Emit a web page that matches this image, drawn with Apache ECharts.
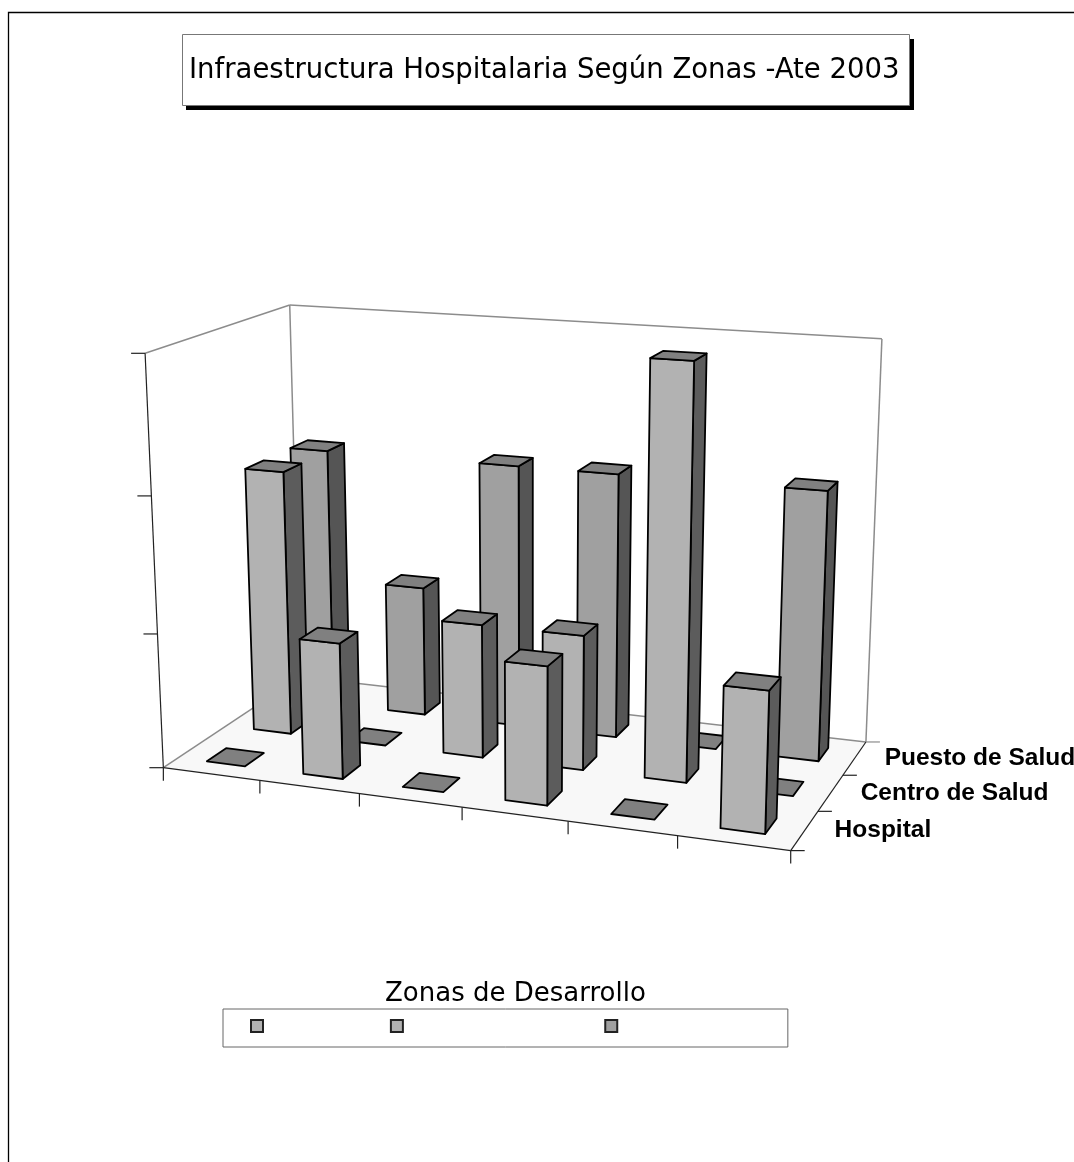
<!DOCTYPE html>
<html>
<head>
<meta charset="UTF-8">
<title>Infraestructura Hospitalaria</title>
<script src="https://cdn.jsdelivr.net/npm/echarts@6/dist/echarts.min.js"></script>
<style>
  html, body { margin: 0; height: 100%; background: #fff; overflow: hidden; }
  #chart { width: 1074px; height: 1162px; }
</style>
</head>
<body>
<div id="chart"></div>
<script>
// datos
const zonas = ['I', 'II', 'III', 'IV', 'V', 'VI'];
const tiposAtras = ['Puesto de Salud', 'Centro de Salud', 'Hospital'];
const hospital = [0, 1, 0, 1, 0, 1];
const centroSalud = [2, 0, 1, 1, 3, 0];
const puestoSalud = [2, 1, 2, 2, 0, 2];
const yTicks = [0, 1, 2, 3];

// esquinas de la caja 3D en pantalla: [u, v, w, x, y]
const esquinas = [
  [0, 0, 0, 163.5, 768], [1, 0, 0, 790.5, 851], [0, 1, 0, 300, 677], [1, 1, 0, 866, 741.5],
  [0, 0, 1, 145, 353], [0, 1, 1, 289.5, 305], [1, 1, 1, 882, 339],
  [0, 0, 1 / 3, 157, 633], [0, 0, 2 / 3, 152, 496.5]
];
const GRID = { left: 0, top: 0, width: 600, height: 300 };

// minimos cuadrados para la matriz de proyeccion
function resolverProyeccion(pts) {
  const A = [], b = [];
  pts.forEach(function (p) {
    const [u, v, w, x, y] = p;
    A.push([u, v, w, 1, 0, 0, 0, 0, -x * u, -x * v, -x * w]); b.push(x);
    A.push([0, 0, 0, 0, u, v, w, 1, -y * u, -y * v, -y * w]); b.push(y);
  });
  const n = 11, M = [];
  for (let i = 0; i < n; i++) {
    M[i] = [];
    for (let j = 0; j < n; j++) {
      let s = 0;
      for (let k = 0; k < A.length; k++) s += A[k][i] * A[k][j];
      M[i][j] = s;
    }
    let s = 0;
    for (let k = 0; k < A.length; k++) s += A[k][i] * b[k];
    M[i][n] = s;
  }
  for (let c = 0; c < n; c++) {
    let piv = c;
    for (let r = c + 1; r < n; r++) if (Math.abs(M[r][c]) > Math.abs(M[piv][c])) piv = r;
    const t = M[c]; M[c] = M[piv]; M[piv] = t;
    for (let r = 0; r < n; r++) {
      if (r === c) continue;
      const f = M[r][c] / M[c][c];
      for (let j = c; j <= n; j++) M[r][j] -= f * M[c][j];
    }
  }
  return M.map(function (fila, i) { return fila[n] / fila[i]; });
}
const P = resolverProyeccion(esquinas);
function proy(u, v, w) {
  const d = P[8] * u + P[9] * v + P[10] * w + 1;
  return [(P[0] * u + P[1] * v + P[2] * w + P[3]) / d, (P[4] * u + P[5] * v + P[6] * w + P[7]) / d];
}

function cara(puntos, fill, stroke, lineWidth) {
  return {
    type: 'polygon',
    shape: { points: puntos },
    style: { fill: fill, stroke: stroke || '#000', lineWidth: lineWidth === undefined ? 1.8 : lineWidth, lineJoin: 'round' }
  };
}
function linea(a, b, color, ancho) {
  return {
    type: 'line',
    shape: { x1: a[0], y1: a[1], x2: b[0], y2: b[1] },
    style: { stroke: color, lineWidth: ancho }
  };
}

// u y w salen de las escalas de ECharts (ejes ocultos)
function alturaW(api, valor) {
  return (GRID.top + GRID.height - api.coord([0, valor])[1]) / GRID.height;
}

function renderCaja(params, api) {
  const c = [];
  const gris = '#8c8c8c', negro = '#222';
  // piso y paredes
  c.push(cara([proy(0, 0, 0), proy(1, 0, 0), proy(1, 1, 0), proy(0, 1, 0)], '#f8f8f8', 'none', 0));
  c.push(linea(proy(0, 0, 0), proy(0, 1, 0), gris, 1.5));
  c.push(linea(proy(0, 1, 0), proy(1, 1, 0), gris, 1.5));
  c.push(linea(proy(0, 1, 0), proy(0, 1, 1), gris, 1.5));
  c.push(linea(proy(1, 1, 0), proy(1, 1, 1), gris, 1.5));
  c.push(linea(proy(0, 1, 1), proy(1, 1, 1), gris, 1.5));
  c.push(linea(proy(0, 0, 1), proy(0, 1, 1), gris, 1.5));
  // ejes delanteros
  c.push(linea(proy(0, 0, 0), proy(0, 0, 1), negro, 1.2));
  c.push(linea(proy(0, 0, 0), proy(1, 0, 0), negro, 1.2));
  c.push(linea(proy(1, 0, 0), proy(1, 1, 0), negro, 1.2));
  yTicks.forEach(function (t) {
    const p = proy(0, 0, alturaW(api, t));
    c.push(linea(p, [p[0] - 14, p[1]], negro, 1.2));
  });
  for (let i = 0; i <= zonas.length; i++) {
    const p = proy(i / zonas.length, 0, 0);
    c.push(linea(p, [p[0], p[1] + 13], negro, 1.2));
  }
  for (let r = 0; r <= tiposAtras.length; r++) {
    const p = proy(1, r / tiposAtras.length, 0);
    c.push(linea(p, [p[0] + 14, p[1]], r === 3 ? gris : negro, 1.2));
  }
  // nombres de las filas
  tiposAtras.forEach(function (nombre, i) {
    const p = proy(1, (tiposAtras.length - 1 - i + 0.5) / tiposAtras.length, 0);
    c.push({
      type: 'text',
      style: {
        x: p[0] + 30, y: p[1], text: nombre, fill: '#000', align: 'left', verticalAlign: 'middle',
        font: 'bold 24.5px "Liberation Sans", Arial, sans-serif'
      }
    });
  });
  return { type: 'group', children: c };
}

function renderBarra(fila, colores) {
  return function (params, api) {
    const cx = api.coord([api.value(0), 0])[0];
    const ancho = api.size([1, 0])[0];
    const w = alturaW(api, api.value(1));
    const nFilas = 3;
    const u0 = (cx - GRID.left - ancho * 0.2) / GRID.width;
    const u1 = (cx - GRID.left + ancho * 0.2) / GRID.width;
    const v0 = (fila + 0.3) / nFilas;
    const v1 = (fila + 0.7) / nFilas;
    const tapa = [proy(u0, v0, w), proy(u1, v0, w), proy(u1, v1, w), proy(u0, v1, w)];
    const hijos = [];
    if (w > 0) {
      hijos.push(cara([proy(u1, v0, 0), proy(u1, v1, 0), proy(u1, v1, w), proy(u1, v0, w)], colores.lado));
      hijos.push(cara([proy(u0, v0, 0), proy(u1, v0, 0), proy(u1, v0, w), proy(u0, v0, w)], colores.frente));
    }
    hijos.push(cara(tapa, colores.tapa));
    return { type: 'group', children: hijos };
  };
}

function serieFila(nombre, valores, fila, colores) {
  return {
    name: nombre,
    type: 'custom',
    coordinateSystem: 'cartesian2d',
    clip: false,
    silent: true,
    itemStyle: { color: colores.frente, borderColor: '#222', borderWidth: 1.2 },
    encode: { x: 0, y: 1 },
    data: valores.map(function (v, i) { return [i, v]; }),
    renderItem: renderBarra(fila, colores)
  };
}

const chart = echarts.init(document.getElementById('chart'), null, { renderer: 'canvas' });
chart.setOption({
  animation: false,
  backgroundColor: '#fff',
  title: [
    {
      text: 'Infraestructura Hospitalaria Según Zonas -Ate 2003',
      left: 189, top: 55,
      padding: 0,
      z: 8,
      textStyle: { fontFamily: '"DejaVu Sans"', fontWeight: 'normal', fontSize: 27.5, color: '#000', lineHeight: 32 }
    },
    {
      text: 'Zonas de Desarrollo',
      left: 385, top: 978,
      padding: 0,
      textStyle: { fontFamily: '"DejaVu Sans"', fontWeight: 'normal', fontSize: 26, color: '#000', lineHeight: 32 }
    }
  ],
  grid: { left: GRID.left, top: GRID.top, width: GRID.width, height: GRID.height, show: false },
  xAxis: { type: 'category', data: zonas, show: false },
  yAxis: { type: 'value', min: 0, max: 3, interval: 1, show: false },
  legend: {
    left: 223, top: 1009,
    padding: [7, 10, 11, 27],
    itemWidth: 12, itemHeight: 12, itemGap: 43,
    icon: 'rect',
    borderColor: '#666', borderWidth: 1,
    data: ['Hospital', 'Centro de Salud', 'Puesto de Salud'],
    textStyle: { color: '#fff', fontFamily: '"Liberation Sans"', fontWeight: 'bold', fontSize: 20 }
  },
  graphic: [
    { type: 'polyline', silent: true, shape: { points: [[8.5, 1162], [8.5, 12.5], [1074, 12.5]] }, style: { fill: 'none', stroke: '#000', lineWidth: 1.3 } },
    { type: 'rect', silent: true, z: 1, shape: { x: 186, y: 39, width: 728, height: 71 }, style: { fill: '#000' } },
    { type: 'rect', silent: true, z: 2, shape: { x: 182.5, y: 34.5, width: 727, height: 71 }, style: { fill: '#fff', stroke: '#777', lineWidth: 1 } }
  ],
  series: [
    {
      name: 'caja', type: 'custom', coordinateSystem: 'cartesian2d', clip: false, silent: true,
      data: [[0, 0]], renderItem: renderCaja
    },
    serieFila('Puesto de Salud', puestoSalud, 2, { frente: '#a0a0a0', lado: '#555555', tapa: '#808080' }),
    serieFila('Centro de Salud', centroSalud, 1, { frente: '#b2b2b2', lado: '#5c5c5c', tapa: '#808080' }),
    serieFila('Hospital', hospital, 0, { frente: '#b2b2b2', lado: '#5c5c5c', tapa: '#808080' })
  ]
});
</script>
</body>
</html>
